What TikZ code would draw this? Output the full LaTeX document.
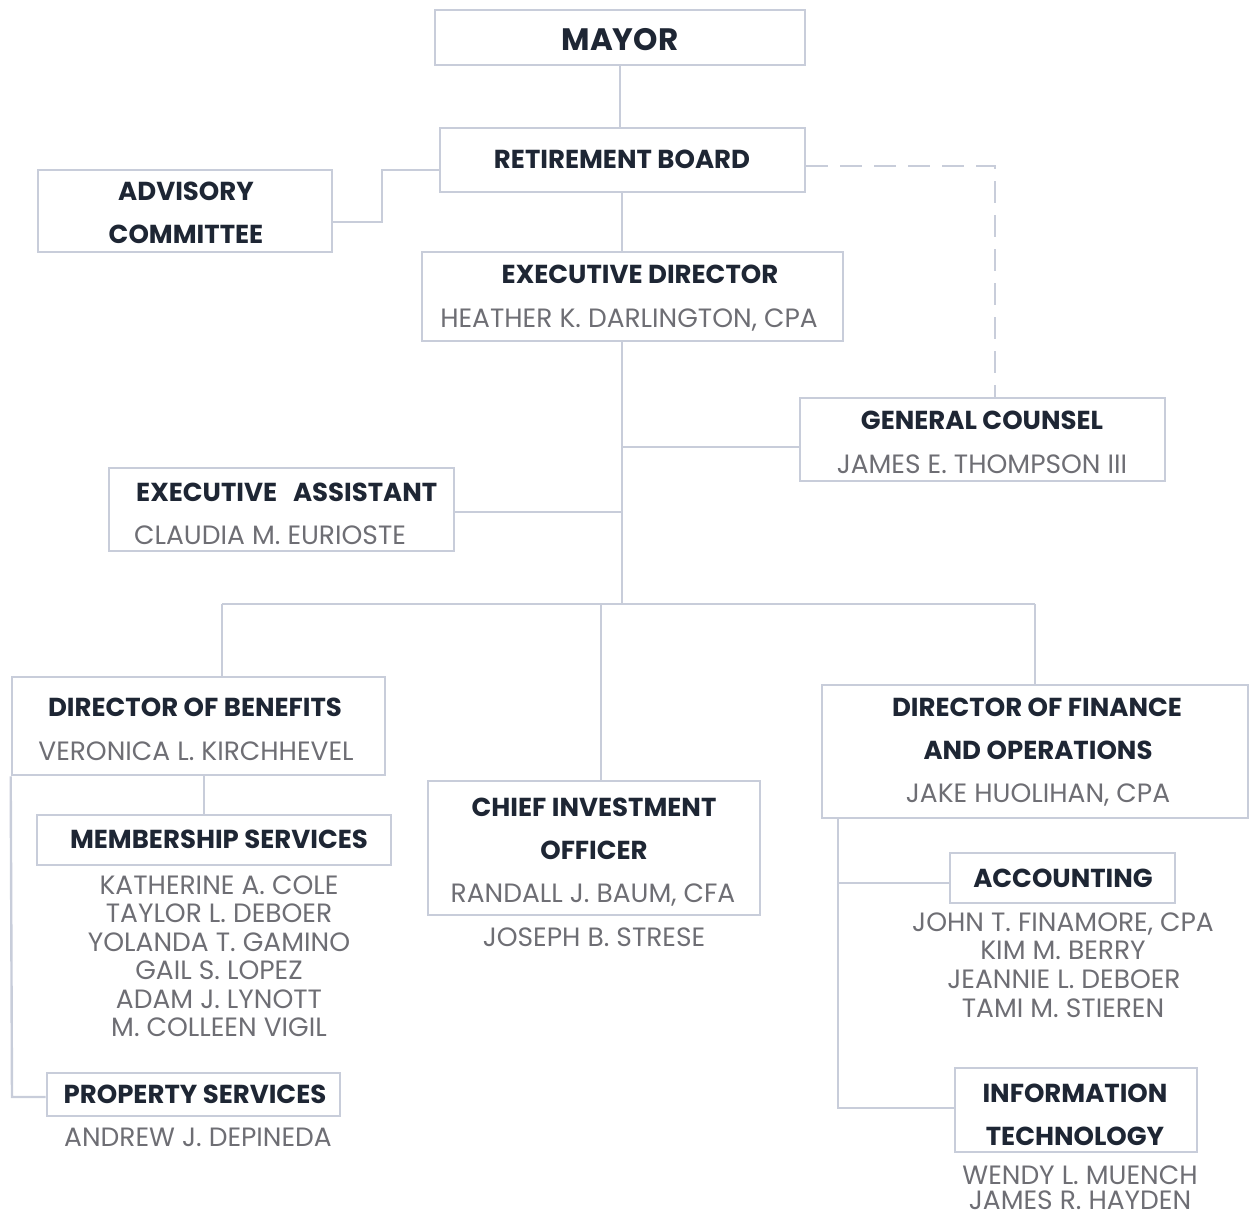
\documentclass[tikz,border=0pt]{standalone}
\usepackage{fontspec}
\setmainfont{Poppins}
\usetikzlibrary{fit}
\definecolor{linec}{RGB}{200,205,218}
\definecolor{titlec}{RGB}{30,38,52}
\definecolor{namec}{RGB}{110,110,116}
\tikzset{
  box/.style={draw=linec, line width=2.6pt, rectangle, inner sep=0pt, fill=none},
  conn/.style={draw=linec, line width=2.4pt},
  dconn/.style={draw=linec, line width=2.4pt, dash pattern=on 22pt off 12pt},
  ttl/.style={text=titlec, font=\fontsize{26}{30}\selectfont\bfseries, inner sep=0pt, text height=18pt, text depth=0pt},
  bigttl/.style={ttl, font=\fontsize{31}{34}\selectfont\bfseries, text height=22pt},
  nm/.style={text=namec, font=\fontsize{26.5}{30}\selectfont, inner sep=0pt, text height=18.5pt, text depth=0pt},
}
\begin{document}
\begin{tikzpicture}[x=1pt,y=-1pt]
\useasboundingbox (0,0) rectangle (1250,1220);
% boxes
\node[box, fit={(435,10) (805,65)}] (mayor) {};
\node[box, fit={(440,128) (805,192)}] (board) {};
\node[box, fit={(38,170) (332,252)}] (adv) {};
\node[box, fit={(422,252) (843,341)}] (ed) {};
\node[box, fit={(800,398) (1165,481)}] (gc) {};
\node[box, fit={(109,468) (454,551)}] (ea) {};
\node[box, fit={(12,677) (385,775)}] (dob) {};
\node[box, fit={(37,815) (391,865)}] (mem) {};
\node[box, fit={(47,1073) (340,1116)}] (prop) {};
\node[box, fit={(428,781) (760,915)}] (cio) {};
\node[box, fit={(822,685) (1248,818)}] (fin) {};
\node[box, fit={(950,853) (1175,903)}] (acc) {};
\node[box, fit={(955,1068) (1197,1152)}] (it) {};
% texts
\node[bigttl] (t1) at (620,40) {MAYOR};
\node[ttl] (t2) at (622,159) {RETIREMENT BOARD};
\node[ttl] (t3) at (186,191) {ADVISORY};
\node[ttl] (t4) at (186,234) {COMMITTEE};
\node[ttl] (t5) at (640,274) {EXECUTIVE DIRECTOR};
\node[nm] (n5) at (629,318) {HEATHER K. DARLINGTON, CPA};
\node[ttl] (t6) at (982,420) {GENERAL COUNSEL};
\node[nm] (n6) at (982,464) {JAMES E. THOMPSON III};
\node[ttl, anchor=west] (t7) at (136,492) {EXECUTIVE\hspace{0.4em} ASSISTANT};
\node[nm, anchor=west] (n7) at (134,535) {CLAUDIA M. EURIOSTE};
\node[ttl] (t8) at (195,707) {DIRECTOR OF BENEFITS};
\node[nm] (n8) at (196,751) {VERONICA L. KIRCHHEVEL};
\node[ttl] (t9) at (219,839) {MEMBERSHIP SERVICES};
\node[nm] (n9a) at (219,885) {KATHERINE A. COLE};
\node[nm] (n9b) at (219,913) {TAYLOR L. DEBOER};
\node[nm] (n9c) at (219,942) {YOLANDA T. GAMINO};
\node[nm] (n9d) at (219,970) {GAIL S. LOPEZ};
\node[nm] (n9e) at (219,999) {ADAM J. LYNOTT};
\node[nm] (n9f) at (219,1027) {M. COLLEEN VIGIL};
\node[ttl] (t10) at (195,1094) {PROPERTY SERVICES};
\node[nm] (n10) at (198,1137) {ANDREW J. DEPINEDA};
\node[ttl] (t11a) at (594,807) {CHIEF INVESTMENT};
\node[ttl] (t11b) at (594,850) {OFFICER};
\node[nm] (n11a) at (593,893) {RANDALL J. BAUM, CFA};
\node[nm] (n11b) at (594,937) {JOSEPH B. STRESE};
\node[ttl] (t12a) at (1037,707) {DIRECTOR OF FINANCE};
\node[ttl] (t12b) at (1038,750) {AND OPERATIONS};
\node[nm] (n12) at (1038,793) {JAKE HUOLIHAN, CPA};
\node[ttl] (t13) at (1063,878) {ACCOUNTING};
\node[nm] (n13a) at (1063,922) {JOHN T. FINAMORE, CPA};
\node[nm] (n13b) at (1063,950) {KIM M. BERRY};
\node[nm] (n13c) at (1064,979) {JEANNIE L. DEBOER};
\node[nm] (n13d) at (1063,1008) {TAMI M. STIEREN};
\node[ttl] (t14a) at (1075,1093) {INFORMATION};
\node[ttl] (t14b) at (1075,1136) {TECHNOLOGY};
\node[nm] (n14a) at (1080,1175) {WENDY L. MUENCH};
\node[nm] (n14b) at (1080,1200) {JAMES R. HAYDEN};
% bend coordinates
\coordinate (a1) at (382,170);
\coordinate (a2) at (382,222);
\coordinate (d1) at (995,166);
\coordinate (sp) at (622,447);
\coordinate (se) at (622,512);
\coordinate (bus) at (622,604);
\coordinate (bl) at (222,604);
\coordinate (bm) at (601,604);
\coordinate (br) at (1035,604);
\coordinate (mb) at (204,775);
\coordinate (pl) at (12,1097);
\coordinate (fl) at (838,818);
\coordinate (fa) at (838,883);
\coordinate (fi) at (838,1108);
% connectors
\draw[conn] (mayor.south -| 620,0) -- (board.north -| 620,0);
\draw[conn] (board.west |- a1) -- (a1) -- (a2) -- (adv.east |- a2);
\draw[dconn] (board.east |- d1) -- (d1) -- (d1 |- gc.north);
\draw[conn] (board.south -| 622,0) -- (ed.north -| 622,0);
\draw[conn] (ed.south -| bus) -- (bus);
\draw[conn] (sp) -- (gc.west |- sp);
\draw[conn] (se) -- (ea.east |- se);
\draw[conn] (bl) -- (br);
\draw[conn] (bl) -- (dob.north -| bl);
\draw[conn] (bm) -- (cio.north -| bm);
\draw[conn] (br) -- (fin.north -| br);
\draw[conn] (mb) -- (mem.north -| mb);
\draw[conn] (dob.south west) -- (pl) -- (prop.west |- pl);
\draw[conn] (fl) -- (fi) -- (it.west |- fi);
\draw[conn] (fa) -- (acc.west |- fa);
\end{tikzpicture}
\end{document}
